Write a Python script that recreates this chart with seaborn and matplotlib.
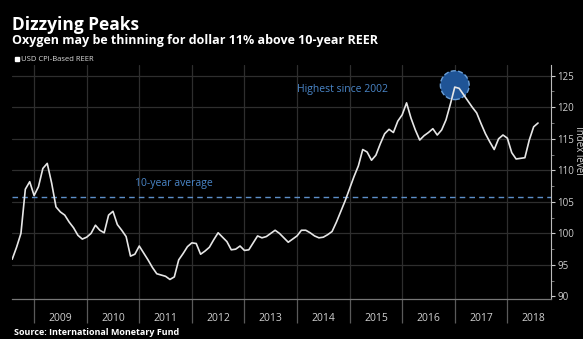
import numpy as np
import pandas as pd
import matplotlib
matplotlib.use("Agg")
import matplotlib.pyplot as plt
import matplotlib.transforms as mtransforms
import seaborn as sns

# ---- data (monthly, Aug 2008 .. Aug 2018) ----
start_year = 2008
start_month = 8
reer = [
    95.9, 97.8, 100.0, 107.0, 108.2,                                   # 2008 Aug-Dec
    106.0, 107.4, 110.3, 111.1, 108.0, 104.2, 103.4, 102.9, 101.8, 100.9, 99.7, 99.1,  # 2009
    99.4, 100.0, 101.3, 100.5, 100.1, 102.9, 103.5, 101.4, 100.5, 99.5, 96.4, 96.7,   # 2010
    98.0, 96.9, 95.8, 94.6, 93.6, 93.4, 93.2, 92.7, 93.1, 95.8, 96.8, 97.9,           # 2011
    98.5, 98.4, 96.7, 97.2, 97.8, 99.0, 100.1, 99.4, 98.7, 97.4, 97.5, 98.0,          # 2012
    97.3, 97.4, 98.5, 99.6, 99.3, 99.5, 100.0, 100.5, 100.0, 99.3, 98.6, 99.1,        # 2013
    99.6, 100.5, 100.5, 100.1, 99.6, 99.3, 99.4, 99.8, 100.3, 101.8, 103.5, 105.2,    # 2014
    107.1, 109.0, 110.7, 113.3, 112.9, 111.6, 112.4, 114.2, 115.8, 116.5, 116.0, 117.8,  # 2015
    118.8, 120.7, 118.3, 116.4, 114.8, 115.5, 116.0, 116.6, 115.6, 116.4, 118.0, 120.5,  # 2016
    123.2, 123.0, 122.0, 121.0, 120.0, 119.1, 117.4, 115.8, 114.5, 113.3, 115.0, 115.6,  # 2017
    115.1, 112.8, 111.8, 111.9, 112.0, 114.8, 116.9, 117.5,                            # 2018
]
ten_year_avg = 105.7
years = list(range(2009, 2019))
year_labels = [str(y) for y in years]
y_ticks = [90, 95, 100, 105, 110, 115, 120, 125]
peak_year = 2017
peak_month = 1
peak_value = 123.5

title = "Dizzying Peaks"
subtitle = "Oxygen may be thinning for dollar 11% above 10-year REER"
legend_label = "USD CPI-Based REER"
source = "Source: International Monetary Fund"

t = [start_year + (start_month - 1 + i) / 12 for i in range(len(reer))]
df = pd.DataFrame({"t": t, "value": reer})

sns.set_theme(style="dark")
plt.rcParams["font.family"] = ["Open Sans", "DejaVu Sans"]

W, H = 583, 339
fig = plt.figure(figsize=(W / 100, H / 100), dpi=100, facecolor="black")
ax = fig.add_axes([12 / W, 1 - 299 / H, (551 - 12) / W, (299 - 65) / H])
ax.set_facecolor("black")

grid_c = "#2e2e2e"
for v in y_ticks[1:]:
    ax.axhline(v, color=grid_c, lw=0.9, zorder=0)
for y in years:
    ax.axvline(y, color=grid_c, lw=0.9, zorder=0)

# year separator ticks below the axis
trans = mtransforms.blended_transform_factory(ax.transData, ax.transAxes)
sep_len = 24 / (299 - 65)
ax.vlines(years, -sep_len, 0, transform=trans, colors="#5a5a5a", lw=0.9, clip_on=False)

ax.axhline(ten_year_avg, color="#5d8fc9", lw=1.0, ls=(0, (4, 3)), zorder=1)

sns.lineplot(data=df, x="t", y="value", ax=ax, color="#e6e6e6", lw=1.2, zorder=3)

ax.scatter([peak_year + (peak_month - 1) / 12], [peak_value], s=430, color="#1f5496",
           edgecolor="#6a9fd8", linewidth=1.0, linestyle="--", zorder=2)

ax.text(2010.92, 107.0, "10-year average", color="#4a86c8", fontsize=7.5, va="bottom")
ax.text(2014.0, 121.9, "Highest since 2002", color="#4a86c8", fontsize=7.5, va="bottom")

ax.set_xlim(2008.58, 2018.83)
ax.set_ylim(89.6, 126.7)

ax.set_xlabel("")
ax.set_ylabel("")

# x axis
ax.set_xticks([y + 0.5 for y in years])
ax.set_xticklabels(year_labels)
ax.tick_params(axis="x", which="major", length=0, pad=10, labelsize=7.5, labelcolor="#d0d0d0")

# y axis on right
ax.yaxis.tick_right()
ax.set_yticks(y_ticks)
ax.set_yticks(np.arange(92.5, 126, 5), minor=True)
ax.tick_params(axis="y", which="both", right=True, left=False)
ax.tick_params(axis="y", which="major", length=3, width=0.8, color="#cccccc", pad=1.5,
               labelsize=7.0, labelcolor="#d0d0d0", direction="out")
ax.tick_params(axis="y", which="minor", length=2, width=0.6, color="#888888", direction="out")

for s in ["top", "left"]:
    ax.spines[s].set_visible(False)
ax.spines["right"].set_visible(True)
ax.spines["right"].set_color("#bbbbbb")
ax.spines["right"].set_linewidth(0.8)
ax.spines["bottom"].set_visible(True)
ax.spines["bottom"].set_color("#777777")
ax.spines["bottom"].set_linewidth(0.9)
ax.grid(False)

fig.text(578 / W, 1 - 150 / H, "Index level", rotation=270, color="#d0d0d0", fontsize=7.0,
         ha="center", va="center")

fig.text(12 / W, 1 - 30 / H, title, color="white", fontsize=12.5, fontweight="bold", va="baseline")
fig.text(12 / W, 1 - 44 / H, subtitle, color="white", fontsize=9, fontweight="bold", va="baseline")
fig.patches.append(plt.Rectangle((15 / W, 1 - 61 / H), 4 / W, 4 / H, transform=fig.transFigure,
                                 color="white", figure=fig))
fig.text(21 / W, 1 - 61 / H, legend_label, color="#dddddd", fontsize=5.5, va="baseline")
fig.text(14 / W, 1 - 335 / H, source, color="white", fontsize=6.5, fontweight="bold", va="baseline")

fig.savefig("out.png", dpi=100, facecolor="black")
